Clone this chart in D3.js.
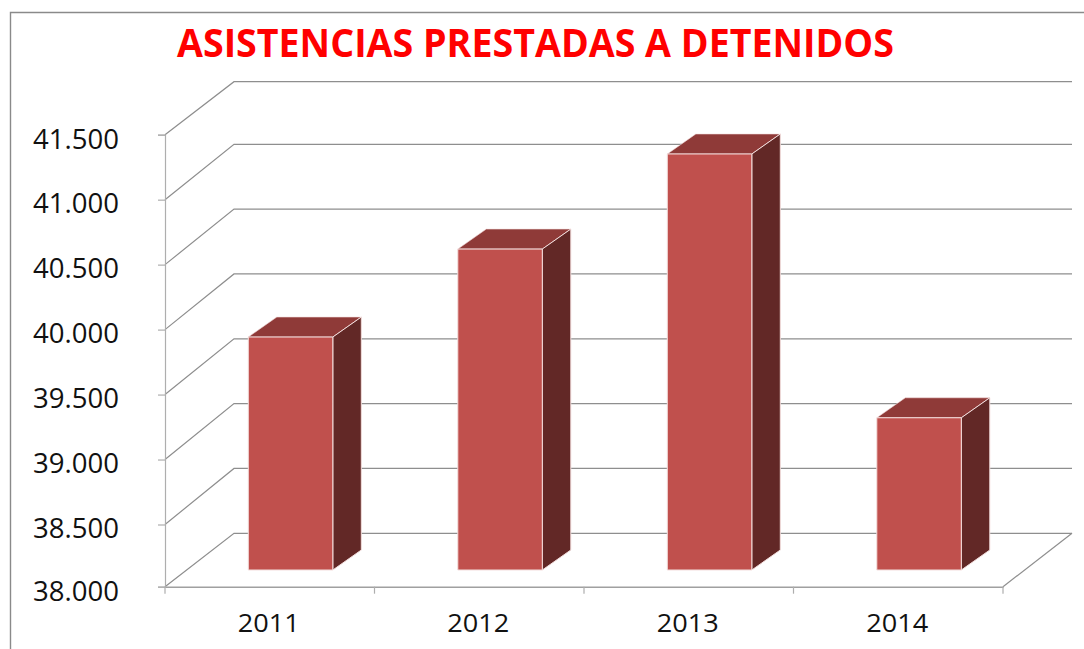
<!DOCTYPE html>
<html>
<head>
<meta charset="utf-8">
<script src="https://cdn.jsdelivr.net/npm/d3@7"></script>
<style>
html,body{margin:0;padding:0;background:#fff;overflow:hidden}
svg{display:block}
</style>
</head>
<body>
<svg id="chart" width="1084" height="649"></svg>
<script>
const chartTitle = "ASISTENCIAS PRESTADAS A DETENIDOS";
const categories = ["2011","2012","2013","2014"];
const values = [39806,40488,41225,39180];
const yTicks = [38000,38500,39000,39500,40000,40500,41000,41500];

const svg = d3.select("#chart");
const floorDx = 69;
const barDepthX = 28.5, barDepthY = -20;

const x = d3.scaleBand().domain(categories).range([165,1003]);
// front edge of the side wall, back wall, and bar plane
const y = d3.scaleLinear().domain([38000,38500,41500]).range([586.7,524.5,134.7]);
const yBack = d3.scaleLinear().domain([38000,41000,41500]).range([533.3,144.3,81.7]);
const yBar = d3.scaleLinear().domain([38000,41500]).range([570,118.5]);
const fmt = d3.formatLocale({decimal:",",thousands:".",grouping:[3],currency:["","€"]}).format(",d");

// chart frame (left and top only reach the picture's edges)
svg.append("path").attr("d","M10.5,649V12.5H1084")
  .attr("fill","none").attr("stroke","#8a8a8a").attr("stroke-width",1.4);

// gridlines: diagonal on the side wall + horizontal on the back wall
const grid = svg.append("g").attr("fill","none").attr("stroke","#8e8e8e").attr("stroke-width",1.2);
grid.selectAll("path").data(yTicks).join("path")
  .attr("d",v=>d3.line()([[165,y(v)],[165+floorDx,yBack(v)],[1003+floorDx,yBack(v)]]));
// right edge of the floor
grid.append("path").attr("d",d3.line()([[1003,y(38000)],[1003+floorDx,yBack(38000)]]));

// value axis
const yAxis = svg.append("g").attr("transform","translate(165,0)")
  .call(d3.axisLeft(y).tickValues(yTicks).tickSize(7).tickPadding(0).tickFormat(fmt));
yAxis.selectAll("path,line").attr("stroke","#aeaeae").attr("stroke-width",1.2);
yAxis.selectAll("text")
  .attr("x",-46).attr("dy",null).attr("y",13.3)
  .attr("font-family","'Open Sans'").attr("font-size",26.5).attr("fill","#111")
  .attr("textLength",86).attr("lengthAdjust","spacingAndGlyphs");

// category axis
const xAxis = svg.append("g").attr("transform",`translate(0,${y(38000)})`)
  .call(d3.axisBottom(x).tickValues([]).tickSizeOuter(0));
xAxis.select(".domain").attr("stroke","#a0a0a0").attr("stroke-width",1.6);
const edges = categories.map(c=>x(c)).concat(x.range()[1]);
xAxis.selectAll("line.edge").data(edges).join("line").attr("class","edge")
  .attr("x1",d=>d).attr("x2",d=>d).attr("y1",0).attr("y2",7)
  .attr("stroke","#aeaeae").attr("stroke-width",1.2);
xAxis.selectAll("text.cat").data(categories).join("text").attr("class","cat")
  .attr("x",d=>x(d)+x.bandwidth()/2-1).attr("y",45)
  .attr("text-anchor","middle")
  .attr("font-family","'Open Sans'").attr("font-size",26).attr("fill","#111")
  .attr("textLength",62).attr("lengthAdjust","spacingAndGlyphs")
  .text(d=>d);

// bars
const barOffset = 83.3, barWidth = 84.5;
const baseY = yBar(38000);
const bars = svg.append("g").selectAll("g").data(categories.map((c,i)=>({c,v:values[i]}))).join("g")
  .attr("stroke","#f3dedd").attr("stroke-width",1).attr("stroke-linejoin","round");
const line = d3.line();
bars.append("path").attr("fill","#8F3A38").attr("d",d=>{
  const l=x(d.c)+barOffset,r=l+barWidth,t=yBar(d.v);
  return line([[l,t],[r,t],[r+barDepthX,t+barDepthY],[l+barDepthX,t+barDepthY]])+"Z";
}).attr("stroke-width",0.6);
bars.append("path").attr("fill","#622826").attr("d",d=>{
  const r=x(d.c)+barOffset+barWidth,t=yBar(d.v);
  return line([[r,t],[r+barDepthX,t+barDepthY],[r+barDepthX,baseY+barDepthY],[r,baseY]])+"Z";
});
bars.append("rect").attr("fill","#C0504D")
  .attr("x",d=>x(d.c)+barOffset).attr("width",barWidth)
  .attr("y",d=>yBar(d.v)).attr("height",d=>baseY-yBar(d.v));

// title
svg.append("text").attr("x",177).attr("y",57)
  .attr("font-family","'Open Sans'").attr("font-weight",700).attr("font-size",39)
  .attr("fill","#ff0000").attr("textLength",717).attr("lengthAdjust","spacingAndGlyphs")
  .text(chartTitle);
</script>
</body>
</html>
